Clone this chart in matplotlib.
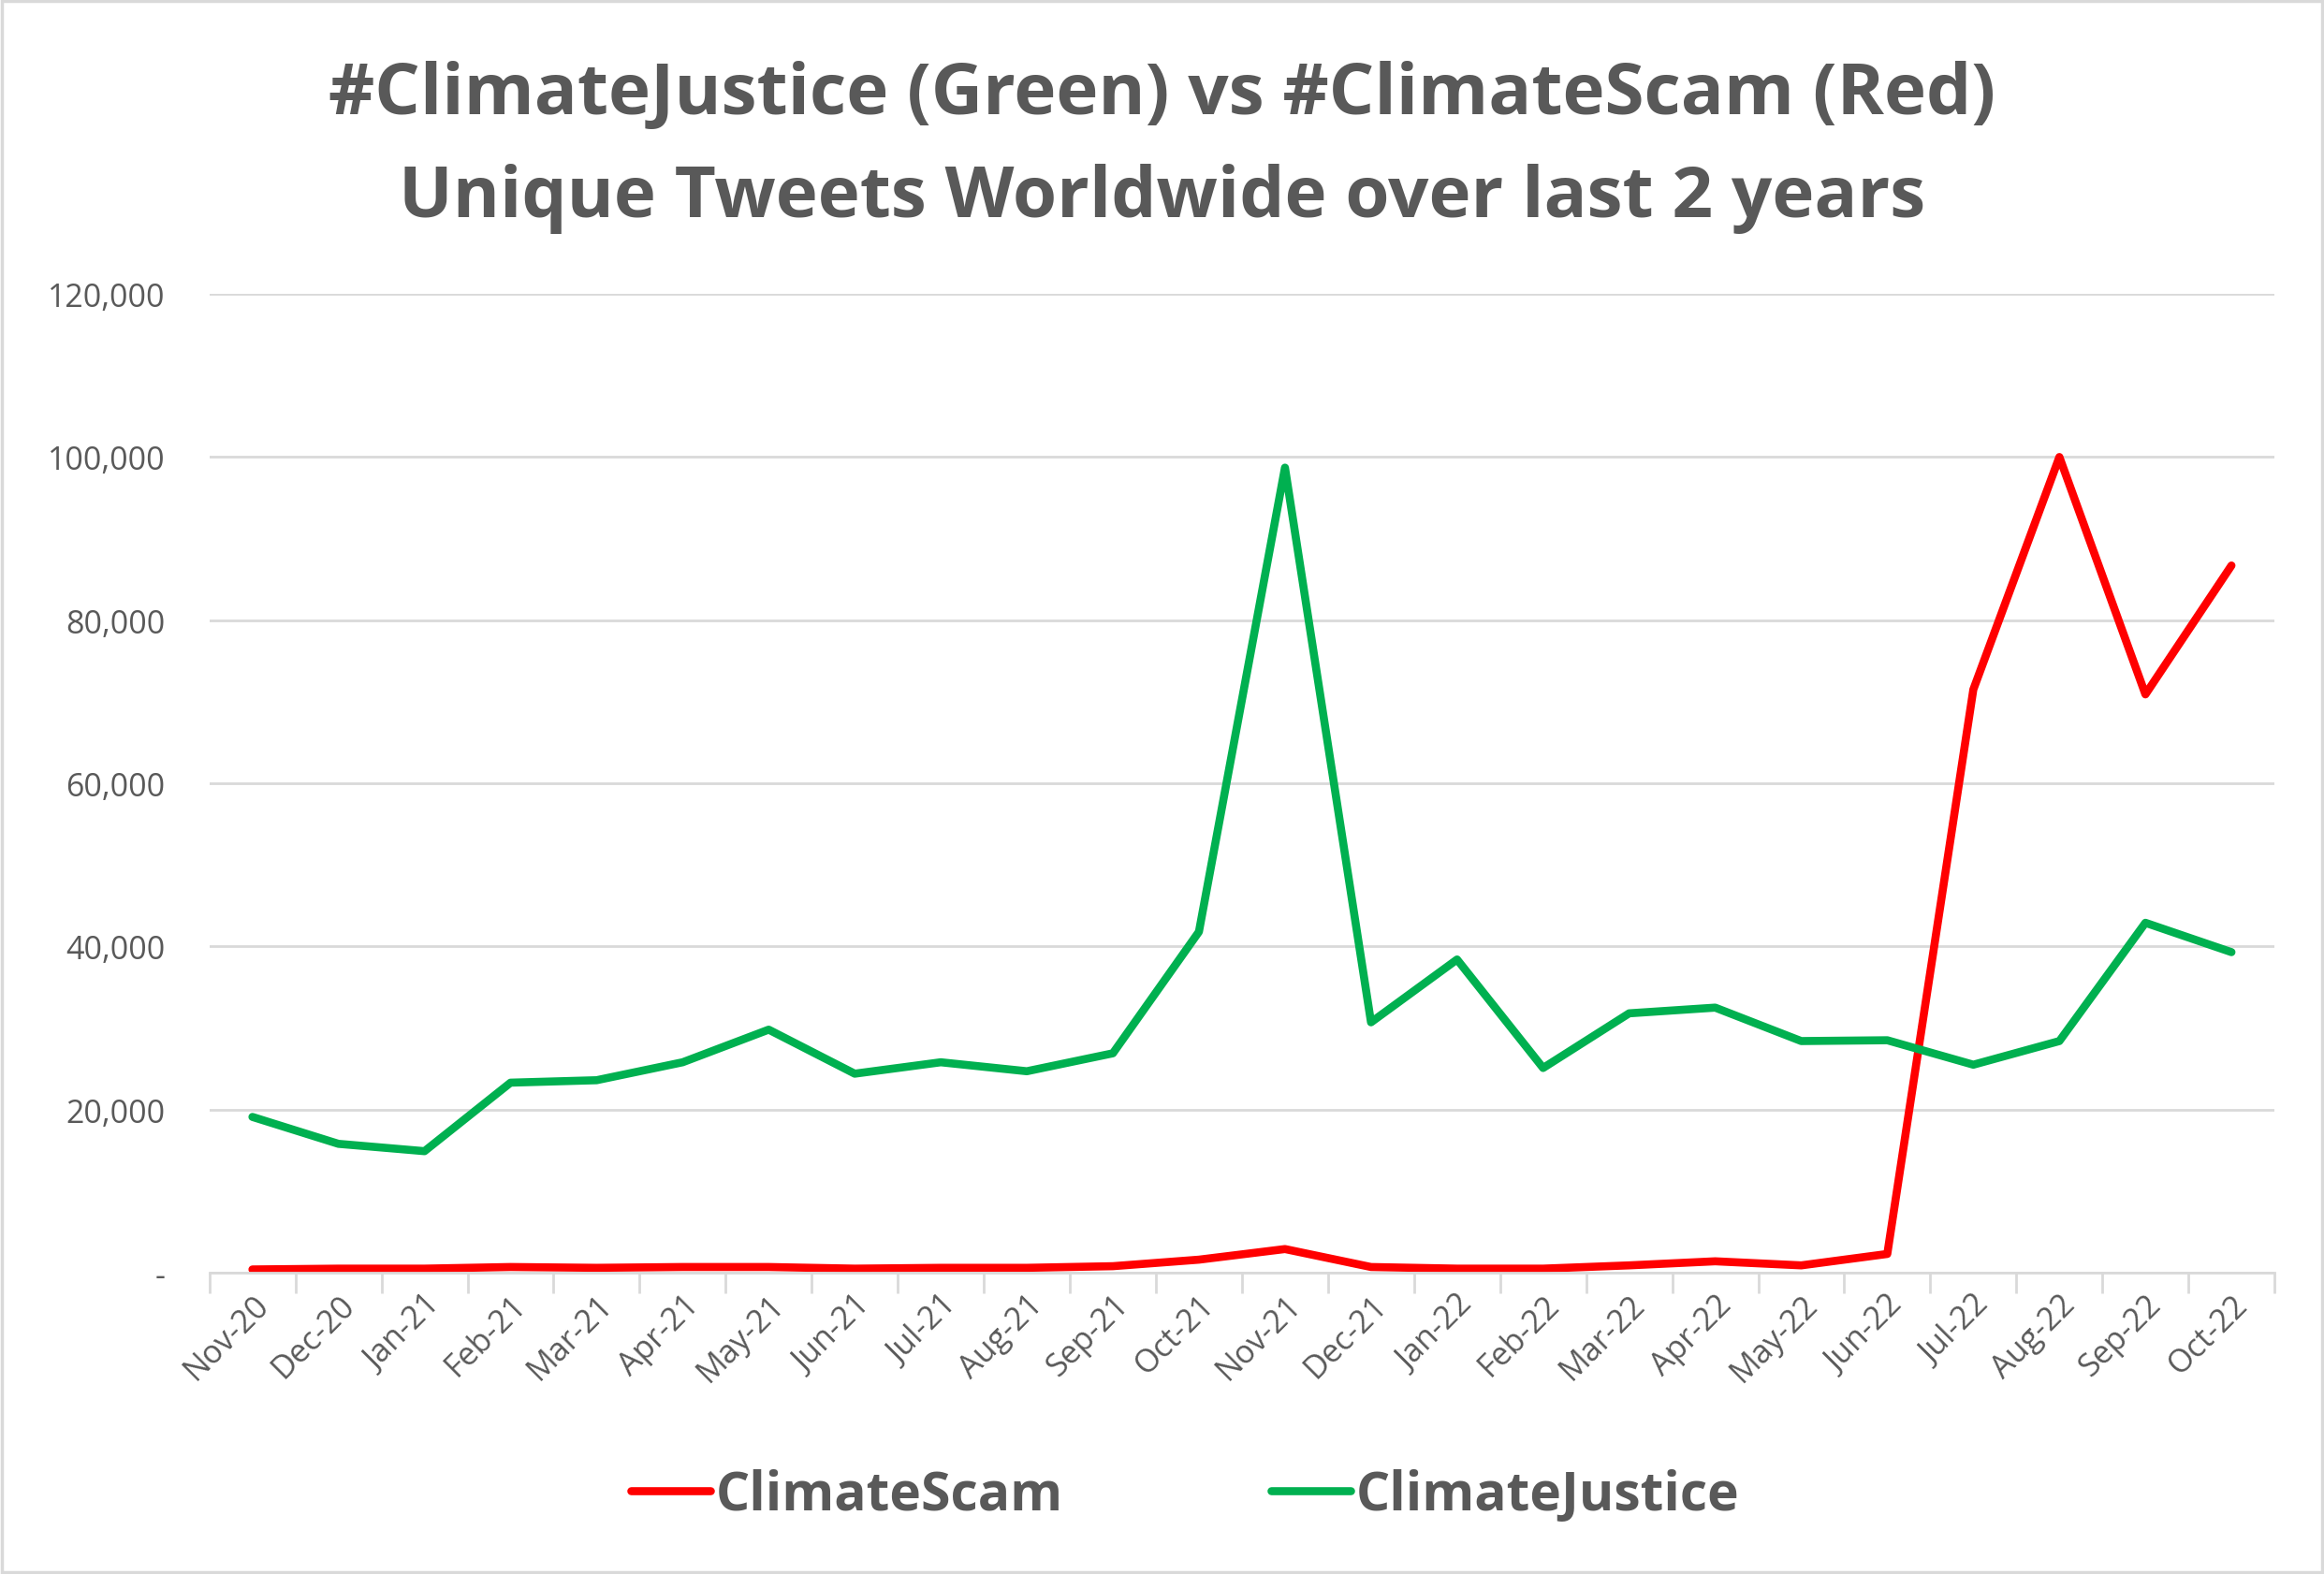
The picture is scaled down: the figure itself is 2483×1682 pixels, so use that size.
import numpy as np
import matplotlib
matplotlib.use('Agg')
from matplotlib import pyplot as plt
from matplotlib.patches import Rectangle
from matplotlib.ticker import FuncFormatter

plt.rcParams['font.family'] = ['Open Sans', 'DejaVu Sans']

# monthly unique tweet counts
months = ['Nov-20', 'Dec-20', 'Jan-21', 'Feb-21', 'Mar-21', 'Apr-21', 'May-21', 'Jun-21',
          'Jul-21', 'Aug-21', 'Sep-21', 'Oct-21', 'Nov-21', 'Dec-21', 'Jan-22', 'Feb-22',
          'Mar-22', 'Apr-22', 'May-22', 'Jun-22', 'Jul-22', 'Aug-22', 'Sep-22', 'Oct-22']
climate_scam = [400, 500, 500, 700, 600, 700, 700, 500, 600, 600, 800, 1600,
                2900, 700, 500, 500, 900, 1400, 900, 2300, 71500, 100000, 70900, 86700]
climate_justice = [19100, 15800, 14900, 23300, 23600, 25800, 29800, 24400, 25800, 24700, 26900, 41800,
                   98700, 30700, 38400, 25100, 31800, 32500, 28400, 28500, 25500, 28400, 42900, 39300]

grey = '#595959'
gridc = '#D9D9D9'

fig = plt.figure(figsize=(24.83, 16.83), dpi=100)
ax = fig.add_axes([0.0901, 0.1913, 0.9787 - 0.0901, 0.8128 - 0.1913])

x = np.arange(len(months))
ax.plot(x, climate_scam, color='#FF0000', lw=6.2, solid_capstyle='round', solid_joinstyle='round', label='ClimateScam')
ax.plot(x, climate_justice, color='#00B050', lw=6.2, solid_capstyle='round', solid_joinstyle='round', label='ClimateJustice')

ax.set_xlim(-0.5, len(months) - 0.5)
ax.set_ylim(0, 120000)
ax.set_yticks(np.arange(0, 120001, 20000))
ax.yaxis.set_major_formatter(FuncFormatter(lambda v, p: '-' if v == 0 else f'{int(v):,}'))
ax.grid(True, axis='y', color=gridc, lw=2)
ax.set_axisbelow(True)

for s in ['top', 'right', 'left']:
    ax.spines[s].set_visible(False)
ax.spines['bottom'].set_color(gridc)
ax.spines['bottom'].set_linewidth(2)

ax.tick_params(axis='y', length=0, pad=34, labelsize=24.5, labelcolor=grey)
ax.set_xticks(x)
ax.set_xticklabels(months, rotation=45, ha='right', va='top', rotation_mode='anchor')
ax.tick_params(axis='x', which='major', length=0, pad=12, labelsize=24.5, labelcolor=grey)
ax.set_xticks(np.arange(-0.5, len(months)), minor=True)
ax.tick_params(axis='x', which='minor', length=16, width=2, color=gridc)

fig.text(0.5, 0.939, '#ClimateJustice (Green) vs #ClimateScam (Red)', ha='center', va='center',
         fontsize=55, fontweight='bold', color=grey)
fig.text(0.5, 0.874, 'Unique Tweets Worldwide over last 2 years', ha='center', va='center',
         fontsize=55, fontweight='bold', color=grey)

leg = fig.legend(loc='center', bbox_to_anchor=(0.51, 0.050), ncol=2, frameon=False,
                 handlelength=1.5, handletextpad=0.1, columnspacing=3.9,
                 prop={'size': 41, 'weight': 'bold'})
for t in leg.get_texts():
    t.set_color(grey)

fig.patches.append(Rectangle((0.001, 0.001), 0.998, 0.998, transform=fig.transFigure,
                             fill=False, edgecolor=gridc, lw=2.5))

fig.savefig('out.png', dpi=100, facecolor='white')
